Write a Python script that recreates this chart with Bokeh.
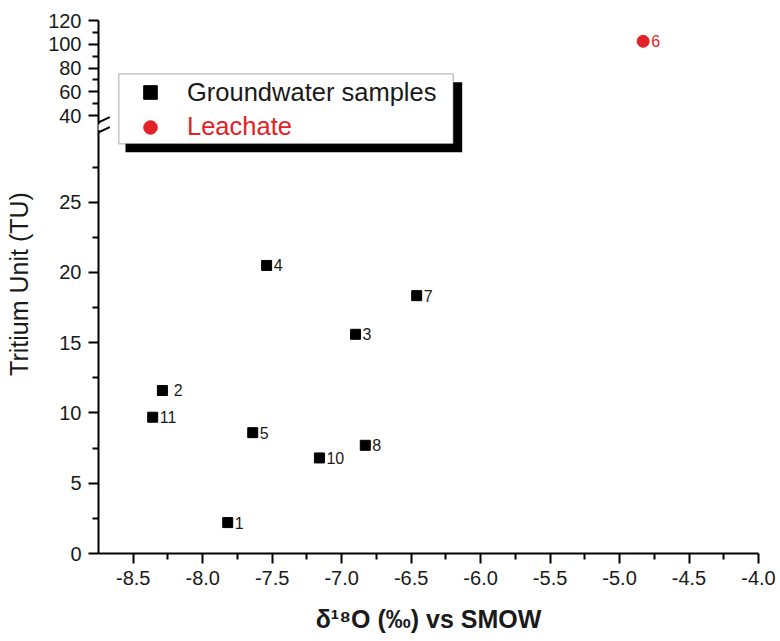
import math
from bokeh.plotting import figure
from bokeh.models import (Range1d, FixedTicker, CustomJSTickFormatter, PrintfTickFormatter,
                          Legend, LegendItem, BoxAnnotation, Arrow)
from bokeh.core.properties import value
from bokeh.embed import file_html
from bokeh.resources import INLINE

# ---------------- data ----------------
gw_labels = ["1", "\u00a02", "3", "4", "5", "7", "8", "10", "11"]
gw_d18o = [-7.82, -8.29, -6.90, -7.54, -7.64, -6.46, -6.83, -7.16, -8.36]
gw_tritium = [2.2, 11.6, 15.6, 20.5, 8.6, 18.35, 7.7, 6.8, 9.7]

leach_labels = ["6"]
leach_d18o = [-4.83]
leach_tritium = [102.5]

x_ticks = [-8.5, -8.0, -7.5, -7.0, -6.5, -6.0, -5.5, -5.0, -4.5, -4.0]
x_minor = [-8.25, -7.75, -7.25, -6.75, -6.25, -5.75, -5.25, -4.75, -4.25]
y_lower_ticks = [0, 5, 10, 15, 20, 25]
y_lower_minor = [2.5, 7.5, 12.5, 17.5, 22.5, 27.5]
y_upper_ticks = [40, 60, 80, 100, 120]
y_upper_minor = [50, 70, 90, 110]

FONT = "Liberation Sans"
RED = "#e32227"

X_START, X_END = -8.75, -4.0
# broken y axis: the lower segment (0-30 TU) uses the main range,
# the upper segment (40-120 TU) a compressed extra range
Y_MAX = 38.36          # top of frame, in lower-segment units
UP_BASE = 31.17        # where 40 TU sits, in lower-segment units
UP_SCALE = 0.0845      # lower-segment units per upper TU


def up(v):
    return UP_BASE + (v - 40) * UP_SCALE


p = figure(frame_width=660, frame_height=539,
           min_border_left=98, min_border_right=22, min_border_top=14, min_border_bottom=88,
           x_range=Range1d(X_START, X_END), y_range=Range1d(0, Y_MAX),
           output_backend="svg", toolbar_location=None,
           background_fill_color="white", border_fill_color="white")
p.extra_y_ranges = {"up": Range1d(40 - UP_BASE / UP_SCALE, 40 + (Y_MAX - UP_BASE) / UP_SCALE)}
p.outline_line_color = None
p.xgrid.visible = False
p.ygrid.visible = False

for ax in (p.xaxis[0], p.yaxis[0]):
    ax.axis_line_width = 2
    ax.axis_line_color = "black"
    ax.major_tick_line_width = 2
    ax.minor_tick_line_width = 2
    ax.major_tick_out = 10
    ax.major_tick_in = 0
    ax.minor_tick_out = 6
    ax.minor_tick_in = 0
    ax.major_label_text_font = FONT
    ax.major_label_text_font_size = "20px"
    ax.major_label_text_color = "#1a1a1a"
    ax.major_label_standoff = 7
    ax.axis_label_text_font = FONT
    ax.axis_label_text_color = "#1a1a1a"

xa = p.xaxis[0]
xa.ticker = FixedTicker(ticks=x_ticks, minor_ticks=x_minor)
xa.formatter = PrintfTickFormatter(format="%.1f")
xa.axis_label = "\u03b4\u00b9\u2078O (\u2030) vs SMOW"
xa.axis_label_text_font_size = "25px"
xa.axis_label_text_font_style = "bold"
xa.axis_label_standoff = 17

ya = p.yaxis[0]
ya.ticker = FixedTicker(ticks=y_lower_ticks + [up(v) for v in y_upper_ticks],
                        minor_ticks=y_lower_minor + [up(v) for v in y_upper_minor])
ya.formatter = CustomJSTickFormatter(args=dict(labels=[str(v) for v in y_lower_ticks + y_upper_ticks]),
                                     code="return labels[index];")
ya.bounds = (0, up(120))
ya.axis_label = "Tritium Unit (TU)"
ya.axis_label_text_font_size = "25px"
ya.axis_label_text_font_style = "normal"
ya.axis_label_standoff = 12

# data marks
r_gw = p.scatter(gw_d18o, gw_tritium, marker="square", size=10, color="black")
p.text(gw_d18o, gw_tritium, text=gw_labels, x_offset=7, text_baseline="middle",
       text_font=value(FONT), text_font_size="16px", text_color="#1a1a1a")
r_le = p.scatter(leach_d18o, leach_tritium, marker="circle", size=12, color=RED, y_range_name="up")
p.text(leach_d18o, leach_tritium, text=leach_labels, x_offset=8, text_baseline="middle",
       y_range_name="up", text_font=value(FONT), text_font_size="16px", text_color=RED)

# axis break marks
p.add_layout(Arrow(end=None, x_start=0, y_start=429, x_end=0, y_end=423.5,
                   start_units="screen", end_units="screen", line_color="white", line_width=5))
for yb in (426.3, 416.3):
    p.add_layout(Arrow(end=None, x_start=-10.7, y_start=yb, x_end=11.3, y_end=yb + 10,
                       start_units="screen", end_units="screen", line_color="black", line_width=2))

# legend: shadow, box, then entries
p.add_layout(BoxAnnotation(left=27, right=363.7, bottom=401.3, top=471.3,
                           left_units="screen", right_units="screen",
                           bottom_units="screen", top_units="screen",
                           fill_color="black", fill_alpha=1, line_color=None))
p.add_layout(BoxAnnotation(left=20.3, right=354.7, bottom=409.7, top=479.7,
                           left_units="screen", right_units="screen",
                           bottom_units="screen", top_units="screen",
                           fill_color="white", fill_alpha=1, line_color="#222222", line_width=1.3))

common = dict(padding=0, margin=0, spacing=0, glyph_width=34, glyph_height=34, label_standoff=20,
              label_text_font=FONT, label_text_font_size="25.5px",
              border_line_color=None, background_fill_alpha=0)
leg_gw = Legend(items=[LegendItem(label="Groundwater samples", renderers=[r_gw])],
                location=(35, 443.7), label_text_color="#1a1a1a", **common)
leg_le = Legend(items=[LegendItem(label="Leachate", renderers=[r_le])],
                location=(35, 409.3), label_text_color=RED, **common)
p.add_layout(leg_gw, "center")
p.add_layout(leg_le, "center")

open("out.html", "w").write(file_html(p, INLINE))
